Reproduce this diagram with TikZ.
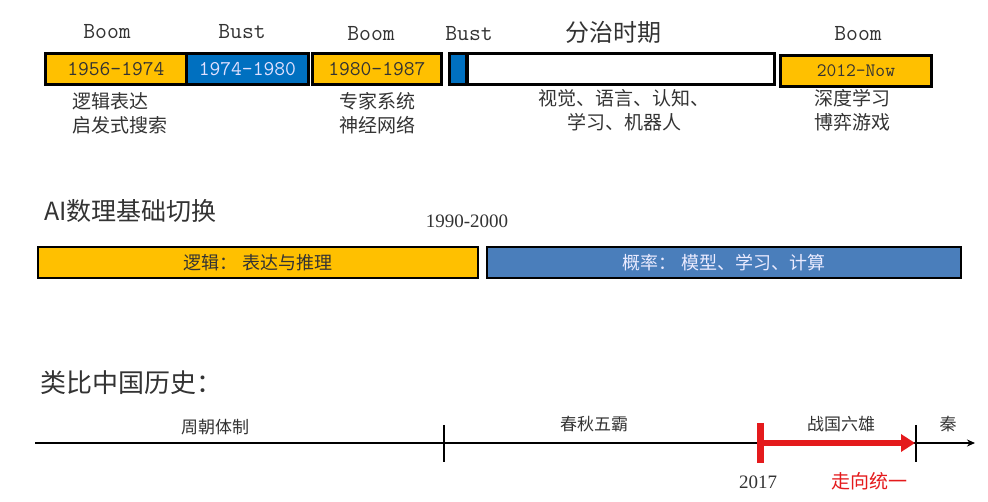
\documentclass[tikz,border=0pt]{standalone}
\usepackage{fontspec}
\setmainfont{Liberation Serif}
\newfontfamily\cjk{Noto Sans CJK SC}
\newfontfamily\mono{Latin Modern Mono}
\usetikzlibrary{arrows.meta}
\definecolor{orng}{HTML}{FFC000}
\definecolor{tblue}{HTML}{0070C0}
\definecolor{lblue}{HTML}{4A7EBB}
\definecolor{ink}{HTML}{333333}
\definecolor{redc}{HTML}{E41A1C}
\begin{document}
\begin{tikzpicture}[x=1pt,y=-1pt,
  era/.style={draw=black,line width=2.8pt,minimum height=31pt,inner sep=0pt,
    font=\mono\fontsize{21}{21}\selectfont},
  band/.style={draw=black,line width=2pt,minimum height=31pt,inner sep=0pt,
    font=\cjk\fontsize{18}{18}\selectfont},
  top/.style={font=\mono\fontsize{23}{23}\selectfont,text=ink,inner sep=0pt},
  cn/.style={font=\cjk\fontsize{19}{24}\selectfont,text=ink,inner sep=0pt,align=left},
  tl/.style={font=\cjk\fontsize{17}{17}\selectfont,text=ink,inner sep=0pt},
  tick/.style={line width=1.2pt,black}]
\useasboundingbox (0,0) rectangle (988,502);
% top eras
\node[era,fill=orng,text=ink,minimum width=141pt,anchor=north west] (e1) at (44,52) {1956-1974};
\node[era,fill=tblue,text=white!88!blue,minimum width=122pt,anchor=north west] (e2) at (185,52) {1974-1980};
\node[era,fill=orng,text=ink,minimum width=129pt,anchor=north west] (e3) at (311,52) {1980-1987};
\node[era,fill=tblue,minimum width=17pt,anchor=north west] (e4) at (448,52) {};
\node[era,fill=white,minimum width=307pt,anchor=north west] (e5) at (466,52) {};
\node[era,fill=orng,text=ink,minimum width=151pt,anchor=north west] (e6) at (779,54) {\fontsize{19}{19}\selectfont 2012-Now};
% labels above
\node[top] (b1) at (107,32) {Boom};
\node[top] (b2) at (242,32) {Bust};
\node[top] (b3) at (371,34) {Boom};
\node[top] (b4) at (469,34) {Bust};
\node[font=\cjk\fontsize{24}{24}\selectfont,text=ink,inner sep=0pt] (b5) at (613,32) {分治时期};
\node[top] (b6) at (858,34) {Boom};
% text below
\node[cn,anchor=north west] (d1) at (72,92) {逻辑表达\\启发式搜索};
\node[cn,anchor=north west] (d3) at (339,92) {专家系统\\神经网络};
\node[cn,align=center,anchor=north] (d5) at (624,89) {视觉、语言、认知、\\学习、机器人};
\node[cn,anchor=north west] (d6) at (814,89) {深度学习\\博弈游戏};
% AI foundation switch
\node[font=\cjk\fontsize{25}{25}\selectfont,text=ink,inner sep=0pt,anchor=west] (h1) at (44,211) {AI数理基础切换};
\node[font=\fontsize{19}{19}\selectfont,text=ink,inner sep=0pt] (yr) at (467,221) {1990-2000};
\node[band,fill=orng,text=ink,minimum width=440pt,anchor=north west] (p1) at (37,246) {逻辑：\ 表达与推理};
\node[band,fill=lblue,text=white!92!blue,minimum width=474pt,anchor=north west] (p2) at (486,246) {概率：\ 模型、学习、计算};
% Chinese history
\node[font=\cjk\fontsize{26}{26}\selectfont,text=ink,inner sep=0pt,anchor=west] (h2) at (40,383) {类比中国历史：};
\coordinate (t0) at (35,443);
\coordinate (t1) at (975,443);
\draw[line width=1.2pt,-{Stealth[length=8pt,width=7pt]}] (t0) -- (t1);
\coordinate (k1a) at (444,425); \coordinate (k1b) at (444,462);
\coordinate (k2a) at (916,425); \coordinate (k2b) at (916,462);
\draw[tick] (k1a) -- (k1b);
\draw[tick] (k2a) -- (k2b);
\coordinate (ra) at (760,423); \coordinate (rb) at (760,463);
\coordinate (rs) at (760,443); \coordinate (re) at (915,443);
\draw[redc,line width=7pt] (ra) -- (rb);
\draw[redc,line width=6pt,-{Triangle[length=14pt,width=17pt]}] (rs) -- (re);
\node[tl] (l1) at (215,427) {周朝体制};
\node[tl] (l2) at (594,424) {春秋五霸};
\node[tl] (l3) at (841,424) {战国六雄};
\node[tl] (l4) at (948,424) {秦};
\node[font=\fontsize{19}{19}\selectfont,text=ink,inner sep=0pt] (y17) at (758,482) {2017};
\node[font=\cjk\fontsize{19}{19}\selectfont,text=redc,inner sep=0pt] (un) at (869,481) {走向统一};
\end{tikzpicture}
\end{document}
